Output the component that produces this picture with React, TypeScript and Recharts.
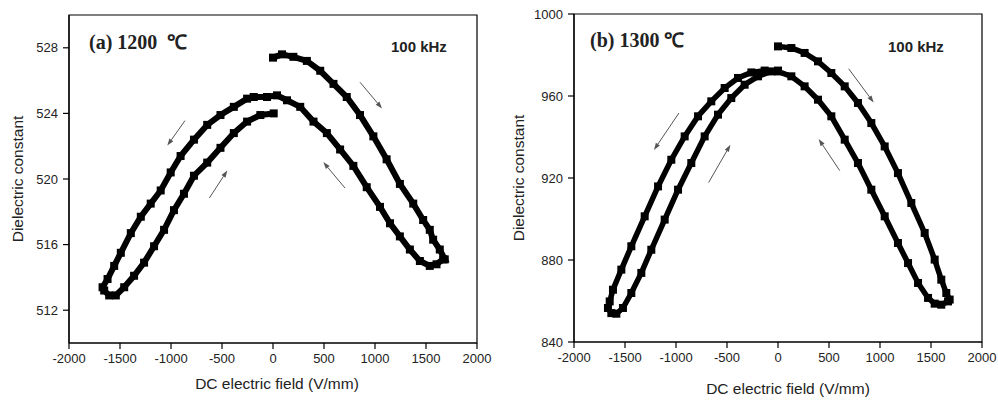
import React from 'react';
import {
  ScatterChart,
  Scatter,
  XAxis,
  YAxis,
  ZAxis,
  ReferenceArea,
  ReferenceLine,
  Label,
} from 'recharts';

// field ticks shared by both panels
const FIELD_TICKS = [-2000, -1500, -1000, -500, 0, 500, 1000, 1500, 2000];

// (a) 1200 C: loop starts at 0, goes up to +1650, back to -1650, back to 0
const fieldA = [
  0, 88, 200, 332, 463, 593, 723, 853, 984, 1114, 1244, 1375, 1472, 1537, 1570, 1635, 1684,
  1668, 1603, 1537, 1440, 1342, 1244, 1147, 1049, 919, 788, 658, 528, 397, 267, 137, 39, -59,
  -189, -254, -384, -515, -645, -775, -906, -1003, -1101, -1199, -1296, -1394, -1492, -1557,
  -1622, -1671, -1655, -1606, -1541, -1459, -1362, -1264, -1166, -1068, -971, -873, -775, -645,
  -515, -384, -254, -124, 7,
];
const epsA = [
  527.4, 527.6, 527.45, 527.2, 526.6, 525.8, 525.0, 523.9, 522.6, 521.2, 519.7, 518.5, 517.5,
  516.9, 516.3, 515.7, 515.1, 515.1, 514.8, 514.7, 515.0, 515.7, 516.5, 517.3, 518.3, 519.5,
  520.8, 521.8, 522.8, 523.5, 524.4, 524.8, 525.1, 525.0, 525.0, 524.9, 524.4, 523.9, 523.3,
  522.4, 521.4, 520.4, 519.3, 518.5, 517.7, 516.7, 515.5, 514.7, 513.9, 513.4, 513.2, 512.9,
  512.9, 513.4, 514.1, 514.9, 515.9, 516.9, 518.1, 519.1, 520.2, 521.0, 521.9, 522.8, 523.5,
  523.9, 524.0,
];
const epsTicksA = [512, 516, 520, 524, 528];

// (b) 1300 C
const fieldB = [
  0, 131, 261, 392, 523, 654, 784, 915, 1046, 1176, 1307, 1438, 1536, 1601, 1650, 1683,
  1667, 1601, 1536, 1471, 1373, 1275, 1176, 1046, 915, 784, 654, 523, 392, 261, 131, 0, -131,
  -261, -392, -523, -654, -784, -915, -1046, -1176, -1307, -1438, -1536, -1618, -1650, -1667,
  -1634, -1585, -1520, -1438, -1340, -1242, -1111, -980, -850, -719, -588, -458, -327, -196,
  -65, 0,
];
const epsB = [
  984.2, 983.4, 981.0, 976.9, 971.2, 964.7, 956.6, 946.8, 935.4, 922.4, 907.8, 893.2, 880.2,
  870.4, 863.9, 860.7, 859.8, 858.2, 858.7, 861.5, 868.8, 878.5, 888.3, 901.3, 914.3, 927.3,
  938.7, 950.1, 958.2, 964.7, 969.6, 972.0, 972.4, 971.5, 968.8, 963.9, 957.4, 950.1, 940.3,
  928.9, 915.9, 901.3, 886.7, 875.3, 865.5, 859.8, 856.6, 854.1, 853.8, 856.6, 863.9, 873.7,
  885.0, 899.7, 914.3, 927.3, 940.3, 950.9, 959.0, 965.5, 969.6, 972.0, 972.4,
];
const epsTicksB = [840, 880, 920, 960, 1000];

// sweep direction arrows [x1, y1, x2, y2] in data units
const arrowsA = [
  [853, 525.9, 1069, 524.3],
  [-863, 523.56, -1036, 522.04],
  [-624, 518.84, -448, 520.52],
  [706, 519.45, 493, 521.03],
];
const arrowsB = [
  [693, 973.3, 938, 956.8],
  [-971, 951.7, -1216, 933.7],
  [-680, 917.8, -467, 936.2],
  [605, 923.6, 399, 939.0],
];

const toPoints = (xs: number[], ys: number[]) => xs.map((x, i) => ({ x, y: ys[i] }));

const arrowShape = (p: any) => {
  const { x1, y1, x2, y2 } = p;
  const a = Math.atan2(y2 - y1, x2 - x1);
  const L = 7;
  const W = 2.4;
  const bx = x2 - L * Math.cos(a);
  const by = y2 - L * Math.sin(a);
  const pts = `${x2},${y2} ${bx - W * Math.sin(a)},${by + W * Math.cos(a)} ${bx + W * Math.sin(a)},${by - W * Math.cos(a)}`;
  return (
    <g>
      <line x1={x1} y1={y1} x2={bx} y2={by} stroke="#555" strokeWidth={1} />
      <polygon points={pts} fill="#555" />
    </g>
  );
};

const AXIS = '#000';
const tickStyle = { fill: '#222', fontSize: 13 };

interface PanelProps {
  data: { x: number; y: number }[];
  yDomain: [number, number];
  yTicks: number[];
  arrows: number[][];
  title: string;
  titlePos: [number, number];
  freqPos: [number, number];
  width: number;
  margin: { top: number; right: number; left: number; bottom: number };
  yWidth: number;
  xHeight: number;
  yLabelDx: number;
  xLabelDx: number;
  xLabelDy: number;
  markerArea: number;
  bandWidth: number;
}

const Panel: React.FC<PanelProps> = (p) => (
  <ScatterChart width={p.width} height={400} margin={p.margin}>
    <XAxis
      type="number"
      dataKey="x"
      domain={[-2000, 2000]}
      ticks={FIELD_TICKS}
      height={p.xHeight}
      axisLine={{ stroke: AXIS, strokeWidth: 1.2 }}
      tickLine={{ stroke: AXIS, strokeWidth: 1.2 }}
      tickSize={6}
      tickMargin={5}
      tick={tickStyle}
    >
      <Label
        value="DC electric field (V/mm)"
        position="center"
        dx={p.xLabelDx}
        dy={p.xLabelDy}
        style={{ fill: '#222', fontSize: 15.5 }}
      />
    </XAxis>
    <YAxis
      type="number"
      dataKey="y"
      domain={p.yDomain}
      ticks={p.yTicks}
      width={p.yWidth}
      axisLine={{ stroke: AXIS, strokeWidth: 1.2 }}
      tickLine={{ stroke: AXIS, strokeWidth: 1.2 }}
      tickSize={6}
      tickMargin={5}
      tick={tickStyle}
    >
      <Label
        value="Dielectric constant"
        position="center"
        angle={-90}
        dx={p.yLabelDx}
        style={{ fill: '#222', fontSize: 15.5, textAnchor: 'middle' }}
      />
    </YAxis>
    <ZAxis range={[p.markerArea, p.markerArea]} />
    <ReferenceArea
      x1={-2000}
      x2={2000}
      y1={p.yDomain[0]}
      y2={p.yDomain[1]}
      fill="none"
      stroke={AXIS}
      strokeWidth={1.2}
    />
    {p.arrows.map((a, i) => (
      <ReferenceLine
        key={i}
        segment={[
          { x: a[0], y: a[1] },
          { x: a[2], y: a[3] },
        ]}
        shape={arrowShape}
      />
    ))}
    <Scatter
      data={p.data}
      fill="#000"
      shape="square"
      line={{ stroke: '#000', strokeWidth: p.bandWidth }}
      isAnimationActive={false}
    />
    <text
      x={p.titlePos[0]}
      y={p.titlePos[1]}
      fontFamily="'Liberation Serif', 'Times New Roman', serif"
      fontWeight="bold"
      fontSize={20}
      fill="#222"
      style={{ whiteSpace: 'pre' }}
    >
      {p.title}
    </text>
    <text
      x={p.freqPos[0]}
      y={p.freqPos[1]}
      fontWeight="bold"
      fontSize={15}
      fill="#222"
    >
      100 kHz
    </text>
  </ScatterChart>
);

export default function App() {
  return (
    <div
      style={{
        position: 'absolute',
        left: 0,
        top: 0,
        width: 998,
        height: 400,
        background: '#fff',
        fontFamily: "'Liberation Sans', Arial, sans-serif",
      }}
    >
      <div style={{ position: 'absolute', left: 0, top: 0 }}>
        <Panel
          data={toPoints(fieldA, epsA)}
          yDomain={[510, 530]}
          yTicks={epsTicksA}
          arrows={arrowsA}
          title="(a) 1200  ℃"
          titlePos={[89, 49]}
          freqPos={[391, 52]}
          width={498}
          margin={{ top: 15, right: 21, left: 0, bottom: 0 }}
          yWidth={69}
          xHeight={57}
          yLabelDx={-17.5}
          xLabelDx={4}
          xLabelDy={11.5}
          markerArea={49}
          bandWidth={6}
        />
      </div>
      <div style={{ position: 'absolute', left: 498, top: 0 }}>
        <Panel
          data={toPoints(fieldB, epsB)}
          yDomain={[840, 1000]}
          yTicks={epsTicksB}
          arrows={arrowsB}
          title="(b) 1300 ℃"
          titlePos={[92, 47]}
          freqPos={[390, 52]}
          width={500}
          margin={{ top: 14, right: 16, left: 0, bottom: 0 }}
          yWidth={76}
          xHeight={58}
          yLabelDx={-18}
          xLabelDx={10}
          xLabelDy={17}
          markerArea={36}
          bandWidth={5.5}
        />
      </div>
    </div>
  );
}
